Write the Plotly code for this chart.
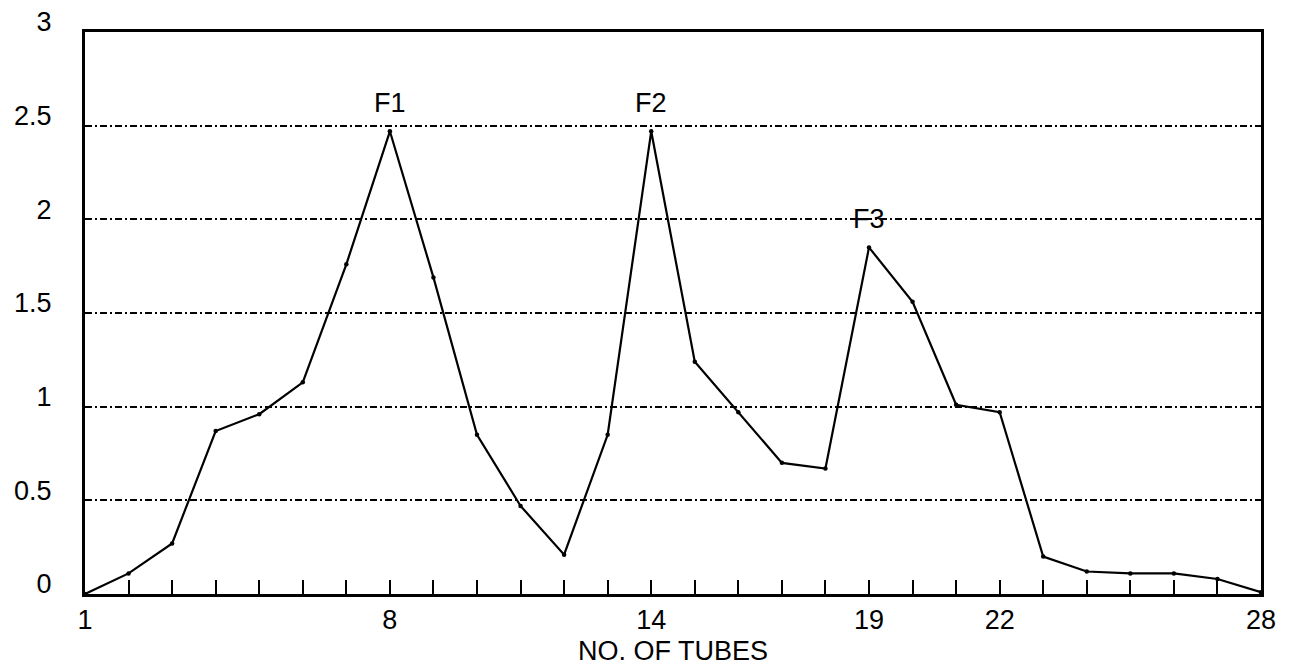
import plotly.graph_objects as go

tubes = list(range(1, 29))
absorbance = [0.0, 0.11, 0.27, 0.87, 0.96, 1.13, 1.76, 2.47, 1.69, 0.85,
              0.47, 0.21, 0.85, 2.47, 1.24, 0.97, 0.70, 0.67, 1.85, 1.56,
              1.01, 0.97, 0.20, 0.12, 0.11, 0.11, 0.08, 0.01]

x_tick_vals = tubes
x_tick_text = [str(t) if t in (1, 8, 14, 19, 22, 28) else "" for t in tubes]
y_tick_vals = [0, 0.5, 1, 1.5, 2, 2.5, 3]
y_tick_text = ["0", "0.5", "1", "1.5", "2", "2.5", "3"]

peak_labels = ["F1", "F2", "F3"]
peak_tubes = [8, 14, 19]

font_family = "Liberation Sans, Arial, sans-serif"

fig = go.Figure()
fig.add_trace(go.Scatter(
    x=tubes, y=absorbance, mode="lines+markers",
    line=dict(color="black", width=2.2),
    marker=dict(color="black", size=4.5),
    showlegend=False, hoverinfo="skip",
))

for lab, t in zip(peak_labels, peak_tubes):
    fig.add_annotation(x=t, y=absorbance[tubes.index(t)], text=lab,
                       showarrow=False, yshift=28,
                       font=dict(size=27, color="black", family=font_family))

fig.update_xaxes(
    range=[1, 28], tickmode="array", tickvals=x_tick_vals, ticktext=x_tick_text,
    ticks="inside", ticklen=14, tickwidth=2, tickcolor="black",
    showline=True, linecolor="black", linewidth=3, mirror=True,
    showgrid=False, zeroline=False, automargin=False,
    tickfont=dict(size=27, color="black", family=font_family),
    title=dict(text="NO. OF TUBES",
               font=dict(size=27, color="black", family=font_family)),
)
fig.update_yaxes(
    range=[0, 3], tickmode="array", tickvals=y_tick_vals, ticktext=y_tick_text,
    ticks="", showline=True, linecolor="black", linewidth=3, mirror=True,
    showgrid=True, gridcolor="black", gridwidth=1.5,
    griddash="7px,3px,2px,3px",
    zeroline=False, automargin=False, ticklabelshift=-10, ticklabelstandoff=25,
    ticklabeloverflow="allow",
    tickfont=dict(size=27, color="black", family=font_family),
)

fig.update_layout(
    width=1285, height=658,
    margin=dict(l=77, r=32, t=24, b=72),
    plot_bgcolor="white", paper_bgcolor="white",
    font=dict(family=font_family, color="black"),
)

fig.write_html("out.html")
